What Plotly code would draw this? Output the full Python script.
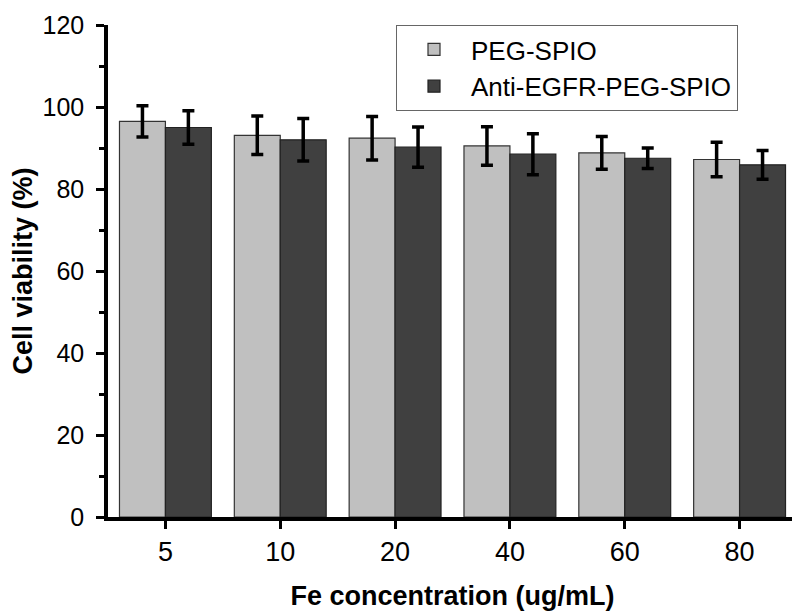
import plotly.graph_objects as go

categories = ["5", "10", "20", "40", "60", "80"]
peg_spio = [96.5, 93.1, 92.4, 90.5, 88.8, 87.2]
peg_spio_err = [3.8, 4.7, 5.3, 4.7, 4.0, 4.2]
anti_egfr = [95.0, 92.0, 90.2, 88.5, 87.5, 85.9]
anti_egfr_err = [4.1, 5.2, 4.9, 5.0, 2.5, 3.5]

font_family = "Liberation Sans, Arial, sans-serif"

fig = go.Figure()
fig.add_trace(go.Bar(
    x=categories, y=peg_spio, name="PEG-SPIO",
    marker=dict(color="#c0c0c0", line=dict(color="#333333", width=1.2)),
    error_y=dict(type="data", array=peg_spio_err, color="black", thickness=3.5, width=6),
))
fig.add_trace(go.Bar(
    x=categories, y=anti_egfr, name="Anti-EGFR-PEG-SPIO",
    marker=dict(color="#404040", line=dict(color="#222222", width=1.2)),
    error_y=dict(type="data", array=anti_egfr_err, color="black", thickness=3.5, width=6),
))

fig.update_layout(
    width=800, height=616,
    paper_bgcolor="white", plot_bgcolor="white",
    margin=dict(l=100, r=11, t=17, b=107, autoexpand=False),
    barmode="group", bargap=0.2, bargroupgap=0.0,
    font=dict(family=font_family, color="black"),
    legend=dict(
        x=0.418, y=1.0, xanchor="left", yanchor="top",
        bgcolor="white", bordercolor="#666666", borderwidth=1,
        font=dict(size=26, family=font_family, color="black"),
        tracegroupgap=0, itemwidth=64,
    ),
    showlegend=True,
)
fig.update_xaxes(
    range=[-0.5, 5.5], automargin=False,
    showline=True, linecolor="black", linewidth=3.5,
    ticks="outside", ticklen=8, tickwidth=3, tickcolor="black",
    tickfont=dict(size=27, family=font_family),
    ticklabeloverflow="allow",
    title=dict(text="<b>Fe concentration (ug/mL)</b>", font=dict(size=27, family=font_family), standoff=21),
    showgrid=False, zeroline=False,
)
fig.update_yaxes(
    range=[0, 120], tickmode="array", tickvals=[0, 20, 40, 60, 80, 100, 120],
    automargin=False,
    showline=True, linecolor="black", linewidth=3.5,
    ticks="outside", ticklen=8, tickwidth=3, tickcolor="black",
    ticklabelstandoff=7, ticklabeloverflow="allow",
    minor=dict(tickvals=[10, 30, 50, 70, 90, 110], ticks="outside", ticklen=5, tickwidth=2.5, tickcolor="black"),
    tickfont=dict(size=25, family=font_family),
    title=dict(text="<b>Cell viability (%)</b>", font=dict(size=27, family=font_family), standoff=6),
    showgrid=False, zeroline=False,
)

fig.write_html("out.html")
